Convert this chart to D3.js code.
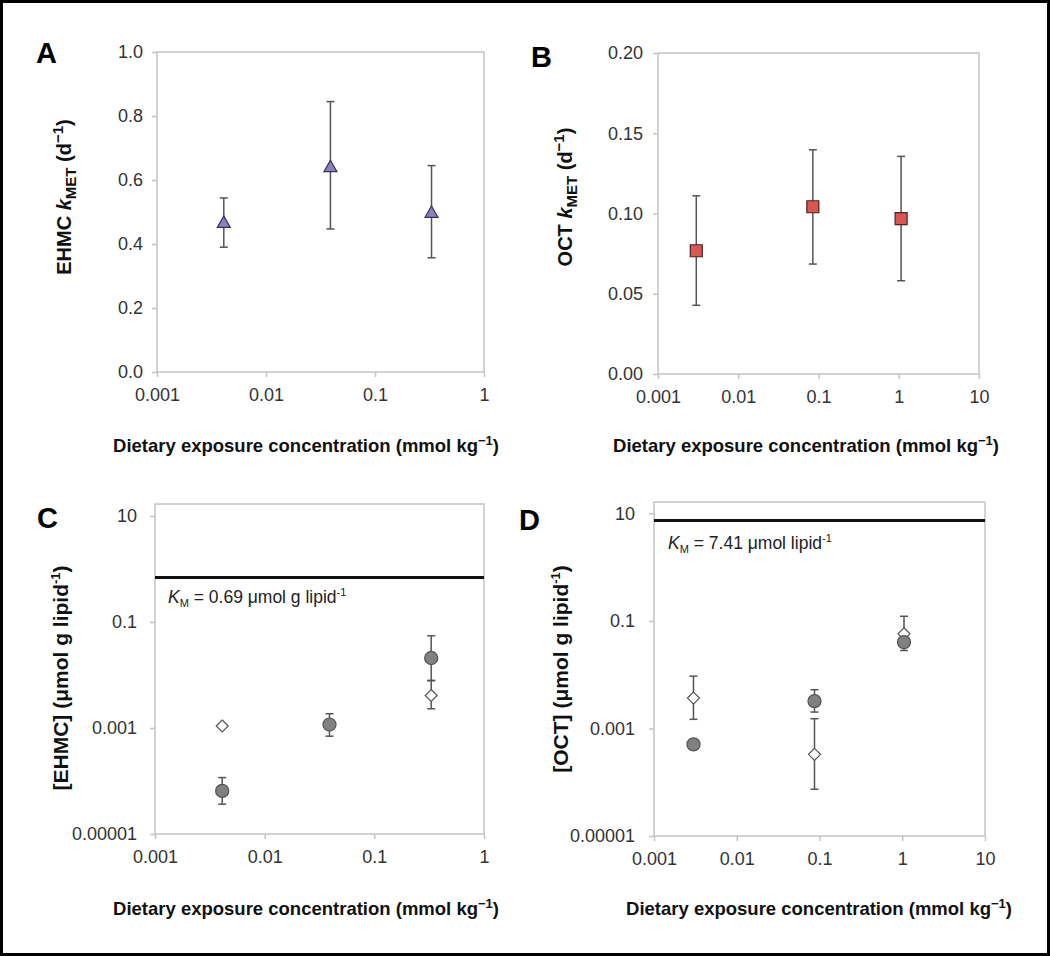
<!DOCTYPE html>
<html><head><meta charset="utf-8">
<script src="https://cdn.jsdelivr.net/npm/d3@7"></script>
<style>
html,body{margin:0;padding:0;background:#fff;}
svg{display:block;font-family:"Liberation Sans",Arial,Helvetica,sans-serif;}
</style></head><body>
<svg id="chart" width="1050" height="956"></svg>
<script>
// ---------------- data ----------------
// Panel A: EHMC kMET
const aConc = [0.0041, 0.039, 0.33];
const aK    = [0.466, 0.64, 0.497];
const aLo   = [0.39, 0.447, 0.357];
const aHi   = [0.544, 0.845, 0.645];
// Panel B: OCT kMET
const bConc = [0.003, 0.085, 1.07];
const bK    = [0.0768, 0.1042, 0.0968];
const bLo   = [0.0428, 0.0685, 0.0581];
const bHi   = [0.111, 0.1397, 0.1356];
// Panel C: [EHMC]
const cCircConc = [0.0041, 0.039, 0.33];
const cCirc     = [6.5e-5, 1.16e-3, 0.0209];
const cCircLo   = [3.65e-5, 7.0e-4, 7.9e-3];
const cCircHi   = [1.16e-4, 1.86e-3, 0.0548];
const cDiaConc  = [0.0041, 0.33];
const cDia      = [1.09e-3, 4.1e-3];
const cDiaLo    = [1.09e-3, 2.3e-3];
const cDiaHi    = [1.09e-3, 7.8e-3];
const cKm = 0.69;
// Panel D: [OCT]
const dCircConc = [0.003, 0.087, 1.05];
const dCirc     = [5.06e-4, 3.23e-3, 0.0404];
const dCircLo   = [5.06e-4, 2.02e-3, 0.0282];
const dCircHi   = [5.06e-4, 5.26e-3, 0.0404];
const dDiaConc  = [0.003, 0.087, 1.05];
const dDia      = [3.67e-3, 3.3e-4, 0.0578];
const dDiaLo    = [1.48e-3, 7.4e-5, 0.0578];
const dDiaHi    = [9.4e-3, 1.52e-3, 0.122];
const dKm = 7.41;
// ticks
const xTicks3 = [0.001, 0.01, 0.1, 1];
const xTickLabels3 = ["0.001", "0.01", "0.1", "1"];
const xTicks4 = [0.001, 0.01, 0.1, 1, 10];
const xTickLabels4 = ["0.001", "0.01", "0.1", "1", "10"];
const aYTicks = [0, 0.2, 0.4, 0.6, 0.8, 1.0];
const aYTickLabels = ["0.0", "0.2", "0.4", "0.6", "0.8", "1.0"];
const bYTicks = [0, 0.05, 0.10, 0.15, 0.20];
const bYTickLabels = ["0.00", "0.05", "0.10", "0.15", "0.20"];
const logYTicks = [1e-5, 1e-3, 1e-1, 10];
const logYTickLabels = ["0.00001", "0.001", "0.1", "10"];

// ---------------- drawing ----------------
const svg = d3.select("#chart");
svg.append("rect").attr("x",1.5).attr("y",1.5).attr("width",1047).attr("height",953)
  .attr("fill","#fff").attr("stroke","#000").attr("stroke-width",3);

const FRAME = "#c4c4c4", TXT = "#333", ERR = "#555";

function frame(x, y) {
  const [x0, x1] = x.range(), [y0, y1] = y.range();
  svg.append("rect").attr("x", x0).attr("y", y1).attr("width", x1 - x0).attr("height", y0 - y1)
    .attr("fill", "none").attr("stroke", FRAME).attr("stroke-width", 1.5);
}
function axes(x, y, xt, xl, yt, yl, ypad) {
  const [y0] = y.range(), [x0] = x.range();
  const gx = svg.append("g").attr("transform", `translate(0,${y0})`)
    .call(d3.axisBottom(x).tickValues(xt).tickFormat((d, i) => xl[i]).tickSize(5).tickPadding(11));
  const gy = svg.append("g").attr("transform", `translate(${x0},0)`)
    .call(d3.axisLeft(y).tickValues(yt).tickFormat((d, i) => yl[i]).tickSize(5).tickPadding(ypad));
  [gx, gy].forEach(g => {
    g.select(".domain").remove();
    g.selectAll("line").attr("stroke", FRAME).attr("stroke-width", 1.5);
    g.selectAll("text").attr("fill", TXT).style("font-size", "18px");
  });
}
function errBars(x, y, conc, lo, hi) {
  const g = svg.append("g").attr("stroke", ERR).attr("stroke-width", 1.5);
  conc.forEach((c, i) => {
    if (hi[i] === lo[i]) return;
    const cx = x(c);
    g.append("line").attr("x1", cx).attr("x2", cx).attr("y1", y(lo[i])).attr("y2", y(hi[i]));
    [lo[i], hi[i]].forEach(v => {
      g.append("line").attr("x1", cx - 4).attr("x2", cx + 4).attr("y1", y(v)).attr("y2", y(v));
    });
  });
}
function markers(x, y, conc, vals, pathFn, fill, stroke) {
  svg.append("g").selectAll("path").data(conc).join("path")
    .attr("transform", (d, i) => `translate(${x(d)},${y(vals[i])})`)
    .attr("d", pathFn).attr("fill", fill).attr("stroke", stroke).attr("stroke-width", 1.2);
}
const triPath = "M0,-7L6.5,4.5L-6.5,4.5Z";
const sqPath = "M-6,-6H6V6H-6Z";
const circPath = d3.symbol(d3.symbolCircle, 135)();
const diaPath = "M0,-6L6,0L0,6L-6,0Z";

function xTitle(cx, baseline) {
  const t = svg.append("text").attr("x", cx).attr("y", baseline).attr("text-anchor", "middle")
    .attr("font-weight", "bold").attr("fill", "#111").style("font-size", "18.5px");
  t.append("tspan").text("Dietary exposure concentration (mmol kg");
  t.append("tspan").attr("dy", -7).style("font-size", "13px").text("\u22121");
  t.append("tspan").attr("dy", 7).text(")");
}
function yTitleK(cx, cy, name) {
  const t = svg.append("text").attr("transform", `translate(${cx},${cy}) rotate(-90)`)
    .attr("text-anchor", "middle").attr("font-weight", "bold").attr("fill", "#111").style("font-size", "20px");
  t.append("tspan").text(name + " ");
  t.append("tspan").attr("font-style", "italic").text("k");
  t.append("tspan").attr("dy", 5).style("font-size", "15px").text("MET");
  t.append("tspan").attr("dy", -5).text(" (d");
  t.append("tspan").attr("dy", -8).style("font-size", "15px").text("\u22121");
  t.append("tspan").attr("dy", 8).text(")");
}
function yTitleConc(cx, cy, name) {
  const t = svg.append("text").attr("transform", `translate(${cx},${cy}) rotate(-90)`)
    .attr("text-anchor", "middle").attr("font-weight", "bold").attr("fill", "#111").style("font-size", "21px");
  t.append("tspan").text(`[${name}] (\u03bcmol g lipid`);
  t.append("tspan").attr("dy", -8).style("font-size", "13px").text("-1");
  t.append("tspan").attr("dy", 8).text(")");
}
function kmLabel(x0, baseline, txt) {
  const t = svg.append("text").attr("x", x0).attr("y", baseline).attr("fill", "#222").style("font-size", "17.5px");
  t.append("tspan").attr("font-style", "italic").text("K");
  t.append("tspan").attr("dy", 4).style("font-size", "11px").text("M");
  t.append("tspan").attr("dy", -4).text(` = ${txt}`);
  t.append("tspan").attr("dy", -7).style("font-size", "11px").text("-1");
}
function kmLine(x, y, km) {
  const [x0, x1] = x.range();
  svg.append("line").attr("x1", x0).attr("x2", x1).attr("y1", y(km)).attr("y2", y(km))
    .attr("stroke", "#111").attr("stroke-width", 3);
}
function panelLetter(x, y, s) {
  svg.append("text").attr("x", x).attr("y", y).attr("font-weight", "bold").attr("fill", "#000")
    .style("font-size", "29px").text(s);
}

// ----- Panel A -----
const xA = d3.scaleLog().domain([0.001, 1]).range([157, 484]);
const yA = d3.scaleLinear().domain([0, 1]).range([372, 52]);
frame(xA, yA);
axes(xA, yA, xTicks3, xTickLabels3, aYTicks, aYTickLabels, 9);
errBars(xA, yA, aConc, aLo, aHi);
markers(xA, yA, aConc, aK, triPath, "#8e7fc2", "#3a3350");
xTitle(306, 452);
yTitleK(71, 197, "EHMC");
panelLetter(36, 63, "A");

// ----- Panel B -----
const xB = d3.scaleLog().domain([0.001, 10]).range([658, 979]);
const yB = d3.scaleLinear().domain([0, 0.2]).range([374, 53]);
frame(xB, yB);
axes(xB, yB, xTicks4, xTickLabels4, bYTicks, bYTickLabels, 10);
errBars(xB, yB, bConc, bLo, bHi);
markers(xB, yB, bConc, bK, sqPath, "#d9574f", "#4a2220");
xTitle(806, 452);
yTitleK(572, 197, "OCT");
panelLetter(531, 67, "B");

// ----- Panel C -----
const xC = d3.scaleLog().domain([0.001, 1]).range([155, 484]);
const yC = d3.scaleLog().domain([1e-5, 16.8]).range([834, 504]);
frame(xC, yC);
axes(xC, yC, xTicks3, xTickLabels3, logYTicks, logYTickLabels, 13);
kmLine(xC, yC, cKm);
kmLabel(168, 603, "0.69 \u03bcmol g lipid");
errBars(xC, yC, cDiaConc, cDiaLo, cDiaHi);
markers(xC, yC, cDiaConc, cDia, diaPath, "#fff", "#555");
errBars(xC, yC, cCircConc, cCircLo, cCircHi);
markers(xC, yC, cCircConc, cCirc, circPath, "#808080", "#555");
xTitle(306, 915);
yTitleConc(68, 678, "EHMC");
panelLetter(37, 528, "C");

// ----- Panel D -----
const xD = d3.scaleLog().domain([0.001, 10]).range([654, 985]);
const yD = d3.scaleLog().domain([1e-5, 16.3]).range([836, 502]);
frame(xD, yD);
axes(xD, yD, xTicks4, xTickLabels4, logYTicks, logYTickLabels, 14);
kmLine(xD, yD, dKm);
kmLabel(668, 549, "7.41 \u03bcmol lipid");
errBars(xD, yD, dDiaConc, dDiaLo, dDiaHi);
markers(xD, yD, dDiaConc, dDia, diaPath, "#fff", "#555");
errBars(xD, yD, dCircConc, dCircLo, dCircHi);
markers(xD, yD, dCircConc, dCirc, circPath, "#808080", "#555");
xTitle(819, 915);
yTitleConc(568, 669, "OCT");
panelLetter(519, 530, "D");
</script>
</body></html>
